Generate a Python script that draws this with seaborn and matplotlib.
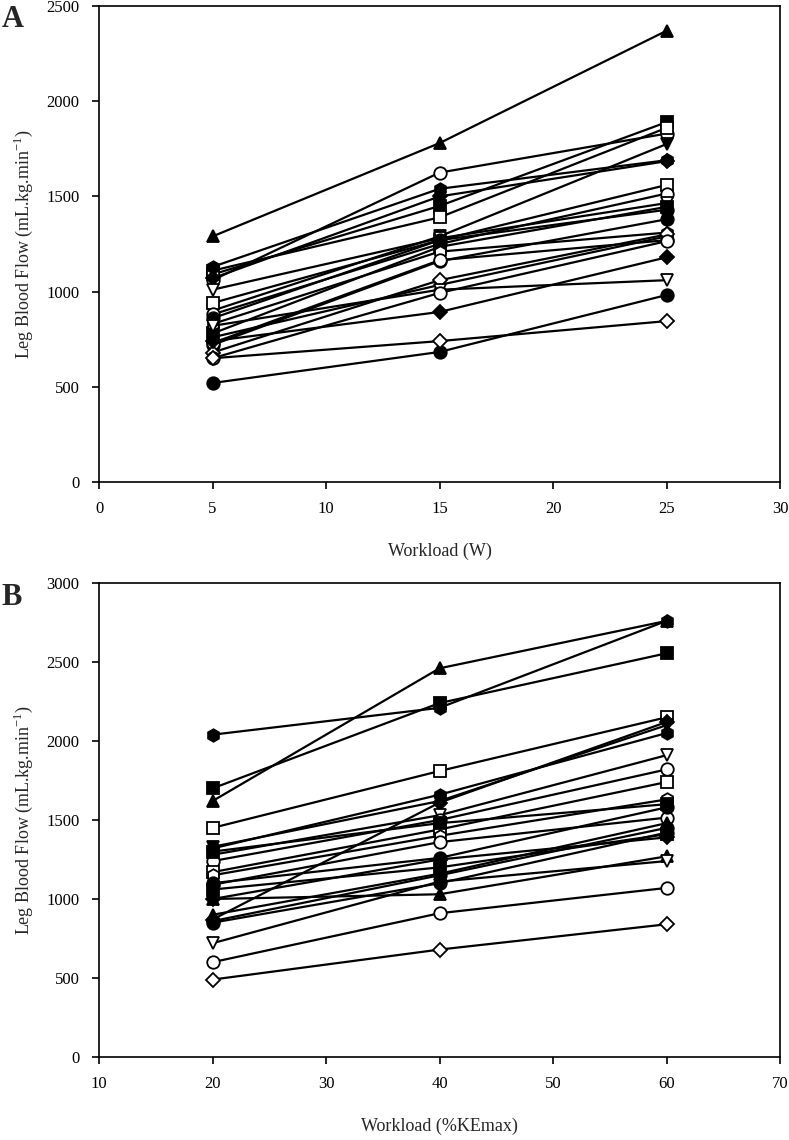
import matplotlib
matplotlib.use("Agg")
import matplotlib.pyplot as plt
import seaborn as sns
import pandas as pd

# Panel A: workload in W
workload_a = [5, 15, 25]
subjects_a = [
    # marker, filled, flow at 5 / 15 / 25 W
    ("^", True, [1290, 1780, 2370]),
    ("o", False, [1060, 1625, 1830]),
    ("s", True, [1090, 1450, 1890]),
    ("s", False, [1110, 1390, 1860]),
    ("v", True, [900, 1290, 1775]),
    ("h", True, [1130, 1540, 1690]),
    ("D", True, [1070, 1500, 1685]),
    ("s", False, [940, 1270, 1560]),
    ("o", False, [880, 1250, 1515]),
    ("v", False, [1010, 1280, 1465]),
    ("o", True, [860, 1270, 1430]),
    ("s", True, [780, 1235, 1445]),
    ("o", True, [720, 1160, 1380]),
    ("h", False, [830, 1210, 1310]),
    ("o", False, [730, 1165, 1270]),
    ("^", True, [760, 1035, 1290]),
    ("D", False, [680, 1060, 1300]),
    ("D", True, [740, 893, 1180]),
    ("v", False, [820, 1010, 1060]),
    ("o", False, [650, 993, 1265]),
    ("o", True, [520, 683, 982]),
    ("D", False, [650, 740, 845]),
]

# Panel B: workload in %KEmax
workload_b = [20, 40, 60]
subjects_b = [
    ("h", True, [2040, 2210, 2760]),
    ("^", True, [1620, 2460, 2760]),
    ("s", True, [1700, 2240, 2555]),
    ("s", False, [1450, 1810, 2150]),
    ("v", True, [1330, 1620, 2100]),
    ("D", True, [870, 1610, 2120]),
    ("h", True, [1320, 1660, 2050]),
    ("v", False, [1280, 1530, 1910]),
    ("o", False, [1240, 1500, 1820]),
    ("s", False, [1170, 1440, 1740]),
    ("h", False, [1150, 1400, 1630]),
    ("s", True, [1300, 1480, 1600]),
    ("o", False, [1090, 1360, 1515]),
    ("o", True, [1100, 1260, 1580]),
    ("D", True, [1000, 1250, 1390]),
    ("^", True, [1000, 1030, 1270]),
    ("v", False, [720, 1110, 1240]),
    ("o", True, [860, 1150, 1450]),
    ("o", True, [850, 1100, 1420]),
    ("^", True, [900, 1160, 1480]),
    ("s", True, [1060, 1200, 1410]),
    ("o", False, [600, 910, 1070]),
    ("D", False, [490, 680, 840]),
]

sns.set_style("white")
plt.rcParams["font.family"] = ["Liberation Serif", "DejaVu Serif"]
plt.rcParams["mathtext.fontset"] = "custom"
plt.rcParams["mathtext.rm"] = "Liberation Serif"

fig = plt.figure(figsize=(7.89, 11.40), dpi=100)
ax_a = fig.add_axes([0.1255, 0.5772, 0.8631, 0.4175])
ax_b = fig.add_axes([0.1255, 0.0728, 0.8631, 0.4158])


def draw_panel(ax, xs, subjects):
    for i, (m, filled, ys) in enumerate(subjects):
        df = pd.DataFrame({"x": xs, "y": ys})
        sns.lineplot(data=df, x="x", y="y", ax=ax, color="black", lw=1.6,
                     marker=m, markersize=9 if m != "D" else 7.5,
                     markerfacecolor="black" if filled else "white",
                     markeredgecolor="black", markeredgewidth=1.3,
                     estimator=None, sort=False, legend=False)


draw_panel(ax_a, workload_a, subjects_a)
draw_panel(ax_b, workload_b, subjects_b)

ylab = "Leg Blood Flow (mL.kg.min$^{\\mathregular{-1}}$)"
ax_a.set_xlim(0, 30)
ax_a.set_ylim(0, 2500)
ax_a.set_xticks(range(0, 31, 5))
ax_a.set_yticks(range(0, 2501, 500))
ax_a.set_xlabel("Workload (W)", fontsize=13, labelpad=18)
ax_a.set_ylabel(ylab, fontsize=13, labelpad=8)

ax_b.set_xlim(10, 70)
ax_b.set_ylim(0, 3000)
ax_b.set_xticks(range(10, 71, 10))
ax_b.set_yticks(range(0, 3001, 500))
ax_b.set_xlabel("Workload (%KEmax)", fontsize=13, labelpad=18)
ax_b.set_ylabel(ylab, fontsize=13, labelpad=8)

for ax in (ax_a, ax_b):
    for sp in ax.spines.values():
        sp.set_color("black")
        sp.set_linewidth(1.2)
    ax.tick_params(axis="both", direction="out", length=5, width=1.2,
                   labelsize=12, colors="black", bottom=True, left=True,
                   pad=9)
    ax.grid(False)

fig.text(0.002, 0.983, "A", fontsize=22, fontweight="bold", va="center", ha="left")
fig.text(0.002, 0.476, "B", fontsize=22, fontweight="bold", va="center", ha="left")

fig.savefig("out.png", dpi=100)
